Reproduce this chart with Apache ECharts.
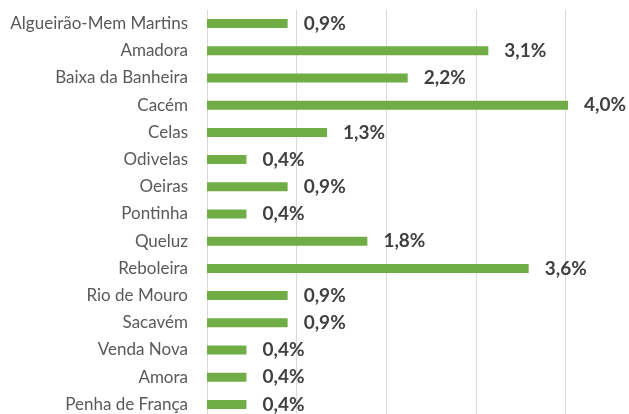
<!DOCTYPE html>
<html>
<head>
<meta charset="utf-8">
<script src="https://cdn.jsdelivr.net/npm/echarts@6/dist/echarts.min.js"></script>
<style>
  html, body { margin: 0; padding: 0; background: #fff; overflow: hidden; }
  /* chart is a bit larger than the window, the reference is cropped on right and bottom */
  #chart { width: 660px; height: 418px; }
</style>
</head>
<body>
<div id="chart"></div>
<script>
// categories, top to bottom as shown
const categories = [
  'Algueirão-Mem Martins', 'Amadora', 'Baixa da Banheira', 'Cacém', 'Celas',
  'Odivelas', 'Oeiras', 'Pontinha', 'Queluz', 'Reboleira',
  'Rio de Mouro', 'Sacavém', 'Venda Nova', 'Amora', 'Penha de França'
]
// percent values
const values = [
  0.90, 3.14, 2.24, 4.03, 1.34,
  0.44, 0.90, 0.44, 1.79, 3.59,
  0.90, 0.90, 0.44, 0.44, 0.44
]
const xTicks = [0, 1, 2, 3, 4, 5]

const chart = echarts.init(document.getElementById('chart'))
chart.setOption({
  animation: false,
  grid: {
    left: 207,
    right: 5,
    top: 10,
    bottom: 0,
    containLabel: false
  },
  xAxis: {
    type: 'value',
    min: xTicks[0],
    max: xTicks[xTicks.length - 1],
    interval: 1,
    axisLabel: { show: false },
    axisLine: { show: false },
    axisTick: { show: false },
    splitLine: { lineStyle: { color: '#d9d9d9', width: 1 } }
  },
  yAxis: {
    type: 'category',
    inverse: true,
    data: categories,
    axisTick: { show: false },
    axisLine: { lineStyle: { color: '#d9d9d9', width: 1 } },
    axisLabel: {
      margin: 19,
      color: '#595959',
      fontFamily: 'Lato',
      fontSize: 17
    }
  },
  series: [
    {
      type: 'bar',
      data: values,
      barWidth: 9,
      itemStyle: { color: '#70ad47' },
      label: {
        show: true,
        position: 'right',
        distance: 16,
        color: '#404040',
        fontFamily: 'Lato',
        fontWeight: 'bold',
        fontSize: 19,
        formatter: p => p.value.toFixed(1).replace('.', ',') + '%'
      }
    }
  ]
})
</script>
</body>
</html>
